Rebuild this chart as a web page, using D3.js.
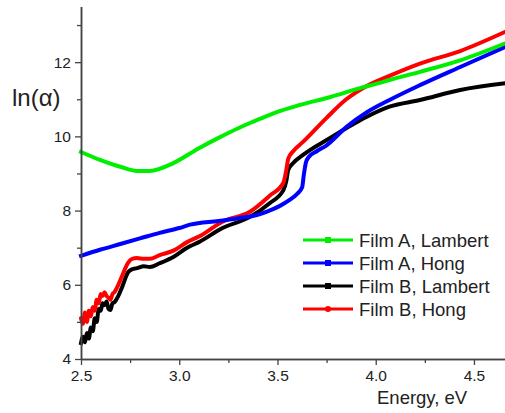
<!DOCTYPE html>
<html>
<head>
<meta charset="utf-8">
<script src="https://cdn.jsdelivr.net/npm/d3@7"></script>
<style>
  body { margin: 0; background: #fff; }
  text { font-family: "Liberation Sans", Arial, sans-serif; fill: #222; }
</style>
</head>
<body>
<div id="chart"></div>
<script>
// ---- data ----
var seriesNames = ["Film A, Lambert", "Film A, Hong", "Film B, Lambert", "Film B, Hong"];
var seriesColors = ["#00ee00", "#0000ff", "#000000", "#ff0000"];

var filmALambertE = [2.5, 2.6, 2.7, 2.785, 2.85, 2.97, 3.1, 3.2, 3.3, 3.36, 3.41, 3.5, 3.61, 3.77, 3.92, 4.02, 4.07, 4.225, 4.43, 4.66];
var filmALambertV = [9.58, 9.36, 9.18, 9.07, 9.07, 9.28, 9.68, 9.96, 10.22, 10.36, 10.47, 10.66, 10.84, 11.06, 11.3, 11.44, 11.52, 11.74, 12.05, 12.51];

var filmAHongE = [2.5, 2.6, 2.7, 2.8, 2.9, 3.0, 3.055, 3.2, 3.31, 3.395, 3.45, 3.51, 3.56, 3.6, 3.625, 3.635, 3.645, 3.66, 3.7, 3.75, 3.85, 3.955, 4.07, 4.225, 4.43, 4.66];
var filmAHongV = [6.78, 6.95, 7.1, 7.25, 7.4, 7.53, 7.62, 7.72, 7.8, 7.88, 7.98, 8.12, 8.28, 8.45, 8.62, 9.0, 9.3, 9.45, 9.6, 9.76, 10.25, 10.65, 10.98, 11.38, 11.87, 12.41];

var filmBLambertE = [2.5, 2.51, 2.52, 2.53, 2.54, 2.55, 2.56, 2.57, 2.58, 2.59, 2.6, 2.61, 2.62, 2.63, 2.64, 2.65, 2.66, 2.67, 2.69, 2.71, 2.74, 2.76, 2.785, 2.82, 2.85, 2.9, 2.97, 3.04, 3.1, 3.22, 3.36, 3.46, 3.53, 3.545, 3.555, 3.58, 3.63, 3.665, 3.75, 3.85, 3.955, 4.07, 4.225, 4.43, 4.66];
var filmBLambertV = [4.43, 4.6, 4.45, 4.7, 4.55, 4.85, 4.75, 5.1, 5.0, 5.35, 5.3, 5.5, 5.45, 5.55, 5.35, 5.32, 5.5, 5.53, 5.7, 5.95, 6.34, 6.42, 6.45, 6.5, 6.48, 6.58, 6.75, 7.0, 7.15, 7.53, 7.83, 8.2, 8.55, 8.8, 9.1, 9.28, 9.5, 9.63, 9.9, 10.22, 10.53, 10.8, 10.98, 11.25, 11.43];

var filmBHongE = [2.5, 2.51, 2.52, 2.53, 2.54, 2.55, 2.56, 2.57, 2.58, 2.59, 2.6, 2.61, 2.62, 2.63, 2.64, 2.65, 2.66, 2.67, 2.69, 2.71, 2.74, 2.76, 2.785, 2.82, 2.85, 2.9, 2.97, 3.04, 3.1, 3.22, 3.36, 3.46, 3.53, 3.545, 3.555, 3.58, 3.63, 3.75, 3.85, 3.955, 4.07, 4.225, 4.43, 4.66];
var filmBHongV = [5.1, 4.95, 5.25, 5.0, 5.3, 5.15, 5.4, 5.3, 5.6, 5.5, 5.75, 5.7, 5.8, 5.7, 5.65, 5.6, 5.75, 5.8, 6.0, 6.25, 6.6, 6.7, 6.72, 6.7, 6.7, 6.8, 6.92, 7.15, 7.3, 7.7, 7.97, 8.4, 8.75, 9.1, 9.4, 9.6, 9.85, 10.5, 11.0, 11.36, 11.63, 11.96, 12.3, 12.82];

var xMajorTicks = [2.5, 3.0, 3.5, 4.0, 4.5];
var xMinorTicks = [2.75, 3.25, 3.75, 4.25];
var yMajorTicks = [4, 6, 8, 10, 12];
var yMinorTicks = [5, 7, 9, 11, 13];

// ---- chart ----
var width = 505, height = 413;

var svg = d3.select("#chart")
            .append("svg")
            .attr("width", width)
            .attr("height", height);

svg.append("rect").attr("width", width).attr("height", height).attr("fill", "#fff");

var x = d3.scaleLinear().domain([2.5, 4.66]).range([81, 505.4]);
var y = d3.scaleLinear().domain([4, 13.5]).range([359, 6.5]);

function pairs(es, vs) {
  return es.map(function (e, i) { return { e: e, v: vs[i] }; });
}

var series = [
  { name: seriesNames[0], color: seriesColors[0], data: pairs(filmALambertE, filmALambertV), marker: "square" },
  { name: seriesNames[1], color: seriesColors[1], data: pairs(filmAHongE, filmAHongV), marker: "square" },
  { name: seriesNames[2], color: seriesColors[2], data: pairs(filmBLambertE, filmBLambertV), marker: "square" },
  { name: seriesNames[3], color: seriesColors[3], data: pairs(filmBHongE, filmBHongV), marker: "circle" }
];

var line = d3.line()
             .curve(d3.curveMonotoneX)
             .x(function (d) { return x(d.e); })
             .y(function (d) { return y(d.v); });

// draw order: black, red, blue, green on top
[2, 3, 1, 0].forEach(function (k) {
  var s = series[k];
  svg.append("path")
     .attr("d", line(s.data))
     .attr("fill", "none")
     .attr("stroke", s.color)
     .attr("stroke-width", 4)
     .attr("stroke-linejoin", s.marker == "circle" ? "round" : "miter")
     .attr("stroke-linecap", s.marker == "circle" ? "round" : "square");
});

// axes
var axisColor = "#444";

svg.append("g")
   .attr("transform", "translate(0,359)")
   .call(d3.axisBottom(x).tickValues(xMajorTicks).tickFormat(d3.format(".1f"))
           .tickSize(6).tickSizeOuter(0).tickPadding(5));
svg.append("g")
   .attr("transform", "translate(0,359)")
   .call(d3.axisBottom(x).tickValues(xMinorTicks).tickFormat("").tickSize(4).tickSizeOuter(0));

svg.append("g")
   .attr("transform", "translate(81,0)")
   .call(d3.axisLeft(y).tickValues(yMajorTicks).tickSize(6).tickSizeOuter(0).tickPadding(4));
svg.append("g")
   .attr("transform", "translate(81,0)")
   .call(d3.axisLeft(y).tickValues(yMinorTicks).tickFormat("").tickSize(4).tickSizeOuter(0));

svg.selectAll(".domain").attr("stroke", axisColor).attr("stroke-width", 1.5);
svg.selectAll(".tick line").attr("stroke", axisColor).attr("stroke-width", 1.3);
svg.selectAll(".tick text")
   .style("font-family", "'Liberation Sans', Arial, sans-serif")
   .style("font-size", "15.5px")
   .attr("fill", "#2a2a3a");

// axis titles
svg.append("text")
   .attr("x", 12)
   .attr("y", 106)
   .style("font-size", "24px")
   .text("ln(α)");

svg.append("text")
   .attr("x", 377)
   .attr("y", 404)
   .style("font-size", "18.5px")
   .text("Energy, eV");

// legend
var legend = svg.append("g");
series.forEach(function (s, i) {
  var ly = 240 + i * 23;
  legend.append("line")
        .attr("x1", 303).attr("x2", 353)
        .attr("y1", ly).attr("y2", ly)
        .attr("stroke", s.color)
        .attr("stroke-width", 3);
  if (s.marker == "circle") {
    legend.append("circle").attr("cx", 328).attr("cy", ly).attr("r", 3).attr("fill", s.color);
  } else {
    legend.append("rect").attr("x", 325).attr("y", ly - 3).attr("width", 6).attr("height", 6).attr("fill", s.color);
  }
  legend.append("text")
        .attr("x", 359)
        .attr("y", ly + 6.5)
        .style("font-size", "18.5px")
        .text(s.name);
});
</script>
</body>
</html>
